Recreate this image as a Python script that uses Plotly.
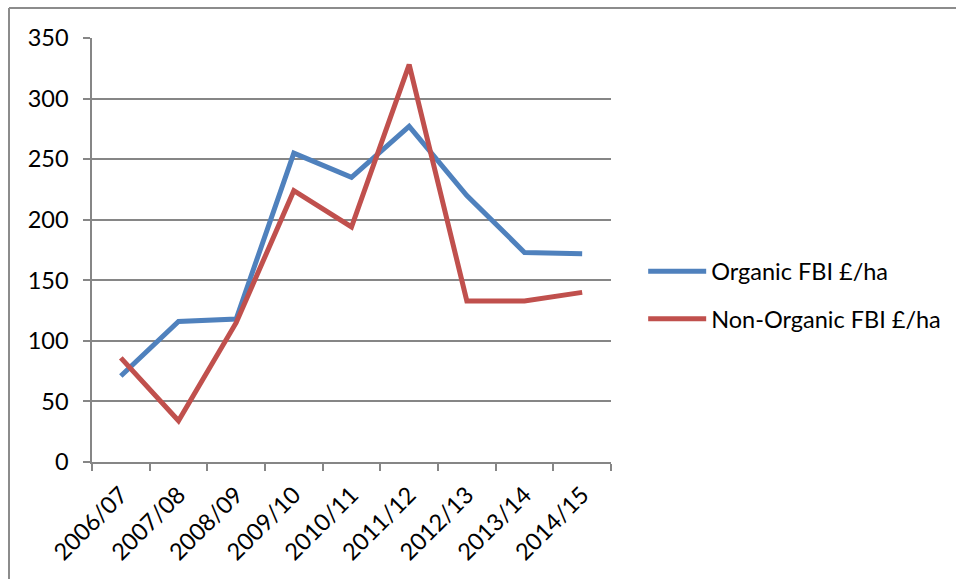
import plotly.graph_objects as go

years = ["2006/07", "2007/08", "2008/09", "2009/10", "2010/11",
         "2011/12", "2012/13", "2013/14", "2014/15"]
organic = [71, 116, 118, 255, 235, 277, 220, 173, 172]
non_organic = [86, 34, 115, 224, 194, 328, 133, 133, 140]
y_ticks = [0, 50, 100, 150, 200, 250, 300, 350]

FONT = "Lato"
FS = 23.5
AXIS = "#868686"

fig = go.Figure()
fig.add_trace(go.Scatter(x=years, y=organic, mode="lines", name="Organic FBI £/ha",
                         legendgroup="a", line=dict(color="#4F81BD", width=5)))
fig.add_trace(go.Scatter(x=years, y=non_organic, mode="lines", name="Non-Organic FBI £/ha",
                         legendgroup="b", line=dict(color="#C0504D", width=5)))

fig.update_layout(
    width=956, height=579,
    margin=dict(l=92, r=345, t=38, b=117, autoexpand=False),
    paper_bgcolor="white", plot_bgcolor="white",
    font=dict(family=FONT, size=FS, color="black"),
    showlegend=True,
    legend=dict(x=1.062, y=0.393, xanchor="left", yanchor="middle",
                font=dict(family=FONT, size=FS, color="black"),
                itemwidth=58, tracegroupgap=14, bgcolor="rgba(0,0,0,0)"),
    xaxis=dict(type="category", range=[-0.5, 8.5], showgrid=False,
               showline=True, linecolor=AXIS, linewidth=1.5,
               ticks="outside", tickson="boundaries", ticklen=7, tickcolor=AXIS, tickwidth=1.5,
               tickangle=-45, ticklabelstandoff=8,
               tickfont=dict(family=FONT, size=FS, color="black")),
    yaxis=dict(range=[0, 350], tickvals=y_ticks, showgrid=True, gridcolor=AXIS, gridwidth=1.5,
               showline=True, linecolor=AXIS, linewidth=1.5, zeroline=False,
               ticks="outside", ticklen=7, tickcolor=AXIS, tickwidth=1.5,
               ticklabelstandoff=10,
               tickfont=dict(family=FONT, size=FS, color="black")),
)

# outer chart frame (left and top edges visible)
fig.add_shape(type="line", xref="paper", yref="paper",
              x0=(9 - 92) / 519, x1=(9 - 92) / 519, y0=-0.4, y1=(462 - 8) / 424,
              line=dict(color="#8c8c8c", width=2))
fig.add_shape(type="line", xref="paper", yref="paper",
              x0=(9 - 92) / 519, x1=(960 - 92) / 519, y0=(462 - 8) / 424, y1=(462 - 8) / 424,
              line=dict(color="#8c8c8c", width=2))

fig.write_html("out.html")
